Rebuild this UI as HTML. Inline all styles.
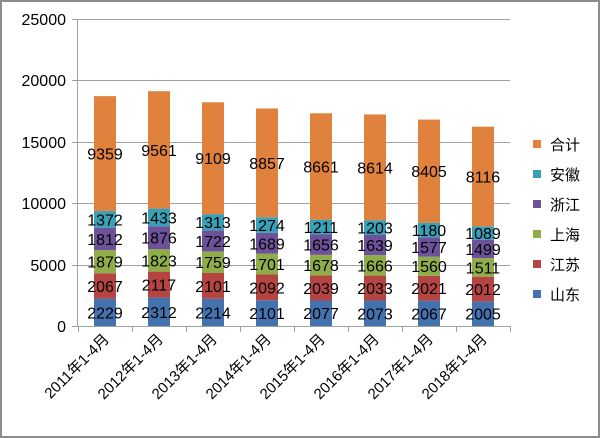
<!DOCTYPE html>
<html><head><meta charset="utf-8"><style>
html,body{margin:0;padding:0;background:#fff}
svg{display:block}
text{font-family:"Liberation Sans","Noto Sans CJK SC",sans-serif}
</style></head><body>
<svg width="600" height="438" viewBox="0 0 600 438" xmlns="http://www.w3.org/2000/svg">
<rect x="1" y="1" width="598" height="436" fill="#fff" stroke="#8c8c8c" stroke-width="2"/>
<g stroke="#a0a0a0" stroke-width="1">
<line x1="72" y1="19.5" x2="510" y2="19.5"/>
<line x1="72" y1="80.5" x2="510" y2="80.5"/>
<line x1="72" y1="142.5" x2="510" y2="142.5"/>
<line x1="72" y1="203.5" x2="510" y2="203.5"/>
<line x1="72" y1="265.5" x2="510" y2="265.5"/>
<line x1="72" y1="326.5" x2="510" y2="326.5"/>
<line x1="77.5" y1="19" x2="77.5" y2="326"/>
</g>
<g stroke="#a0a0a0"><line x1="78.5" y1="326" x2="78.5" y2="332"/><line x1="132.5" y1="326" x2="132.5" y2="332"/><line x1="186.5" y1="326" x2="186.5" y2="332"/><line x1="240.5" y1="326" x2="240.5" y2="332"/><line x1="294.5" y1="326" x2="294.5" y2="332"/><line x1="348.5" y1="326" x2="348.5" y2="332"/><line x1="402.5" y1="326" x2="402.5" y2="332"/><line x1="456.5" y1="326" x2="456.5" y2="332"/><line x1="510.5" y1="326" x2="510.5" y2="332"/></g>
<g font-size="16" fill="#000" text-anchor="end">
<text x="66" y="25">25000</text><text x="66" y="86">20000</text><text x="66" y="148">15000</text><text x="66" y="209">10000</text><text x="66" y="271">5000</text><text x="66" y="332">0</text>
</g>
<g>
<!-- bar 0 -->
<rect x="94" y="298.63" width="22" height="27.37" fill="#4472ae"/>
<rect x="94" y="273.24" width="22" height="25.39" fill="#b54543"/>
<rect x="94" y="250.17" width="22" height="23.07" fill="#8fae4a"/>
<rect x="94" y="227.92" width="22" height="22.25" fill="#6d529a"/>
<rect x="94" y="211.07" width="22" height="16.85" fill="#3aa0b8"/>
<rect x="94" y="96.14" width="22" height="114.93" fill="#e0823d"/>
<!-- bar 1 -->
<rect x="148" y="297.61" width="22" height="28.39" fill="#4472ae"/>
<rect x="148" y="271.61" width="22" height="26.0" fill="#b54543"/>
<rect x="148" y="249.23" width="22" height="22.38" fill="#8fae4a"/>
<rect x="148" y="226.19" width="22" height="23.04" fill="#6d529a"/>
<rect x="148" y="208.59" width="22" height="17.6" fill="#3aa0b8"/>
<rect x="148" y="91.18" width="22" height="117.41" fill="#e0823d"/>
<!-- bar 2 -->
<rect x="202" y="298.81" width="22" height="27.19" fill="#4472ae"/>
<rect x="202" y="273.01" width="22" height="25.8" fill="#b54543"/>
<rect x="202" y="251.41" width="22" height="21.6" fill="#8fae4a"/>
<rect x="202" y="230.27" width="22" height="21.14" fill="#6d529a"/>
<rect x="202" y="214.14" width="22" height="16.13" fill="#3aa0b8"/>
<rect x="202" y="102.28" width="22" height="111.86" fill="#e0823d"/>
<!-- bar 3 -->
<rect x="256" y="300.20" width="22" height="25.8" fill="#4472ae"/>
<rect x="256" y="274.51" width="22" height="25.69" fill="#b54543"/>
<rect x="256" y="253.62" width="22" height="20.89" fill="#8fae4a"/>
<rect x="256" y="232.88" width="22" height="20.74" fill="#6d529a"/>
<rect x="256" y="217.24" width="22" height="15.64" fill="#3aa0b8"/>
<rect x="256" y="108.47" width="22" height="108.77" fill="#e0823d"/>
<!-- bar 4 -->
<rect x="310" y="300.49" width="22" height="25.51" fill="#4472ae"/>
<rect x="310" y="275.46" width="22" height="25.03" fill="#b54543"/>
<rect x="310" y="254.85" width="22" height="20.61" fill="#8fae4a"/>
<rect x="310" y="234.51" width="22" height="20.34" fill="#6d529a"/>
<rect x="310" y="219.64" width="22" height="14.87" fill="#3aa0b8"/>
<rect x="310" y="113.29" width="22" height="106.35" fill="#e0823d"/>
<!-- bar 5 -->
<rect x="364" y="300.54" width="22" height="25.46" fill="#4472ae"/>
<rect x="364" y="275.58" width="22" height="24.96" fill="#b54543"/>
<rect x="364" y="255.12" width="22" height="20.46" fill="#8fae4a"/>
<rect x="364" y="234.99" width="22" height="20.13" fill="#6d529a"/>
<rect x="364" y="220.22" width="22" height="14.77" fill="#3aa0b8"/>
<rect x="364" y="114.44" width="22" height="105.78" fill="#e0823d"/>
<!-- bar 6 -->
<rect x="418" y="300.62" width="22" height="25.38" fill="#4472ae"/>
<rect x="418" y="275.80" width="22" height="24.82" fill="#b54543"/>
<rect x="418" y="256.64" width="22" height="19.16" fill="#8fae4a"/>
<rect x="418" y="237.28" width="22" height="19.36" fill="#6d529a"/>
<rect x="418" y="222.79" width="22" height="14.49" fill="#3aa0b8"/>
<rect x="418" y="119.57" width="22" height="103.22" fill="#e0823d"/>
<!-- bar 7 -->
<rect x="472" y="301.38" width="22" height="24.62" fill="#4472ae"/>
<rect x="472" y="276.67" width="22" height="24.71" fill="#b54543"/>
<rect x="472" y="258.12" width="22" height="18.55" fill="#8fae4a"/>
<rect x="472" y="239.71" width="22" height="18.41" fill="#6d529a"/>
<rect x="472" y="226.34" width="22" height="13.37" fill="#3aa0b8"/>
<rect x="472" y="126.67" width="22" height="99.67" fill="#e0823d"/>
</g>
<g font-size="16" fill="#000" text-anchor="middle">
<text x="105" y="318.3">2229</text><text x="105" y="291.9">2067</text><text x="105" y="267.7">1879</text><text x="105" y="245.0">1812</text><text x="105" y="225.5">1372</text><text x="105" y="159.6">9359</text>
<text x="159" y="317.8">2312</text><text x="159" y="290.6">2117</text><text x="159" y="266.4">1823</text><text x="159" y="243.7">1876</text><text x="159" y="223.4">1433</text><text x="159" y="155.9">9561</text>
<text x="213" y="318.4">2214</text><text x="213" y="291.9">2101</text><text x="213" y="268.2">1759</text><text x="213" y="246.8">1722</text><text x="213" y="228.2">1313</text><text x="213" y="164.2">9109</text>
<text x="267" y="319.1">2101</text><text x="267" y="293.4">2092</text><text x="267" y="270.1">1701</text><text x="267" y="249.3">1689</text><text x="267" y="231.1">1274</text><text x="267" y="168.9">8857</text>
<text x="321" y="319.2">2077</text><text x="321" y="294.0">2039</text><text x="321" y="271.2">1678</text><text x="321" y="250.7">1656</text><text x="321" y="233.1">1211</text><text x="321" y="172.5">8661</text>
<text x="375" y="319.3">2073</text><text x="375" y="294.1">2033</text><text x="375" y="271.4">1666</text><text x="375" y="251.1">1639</text><text x="375" y="233.6">1203</text><text x="375" y="173.3">8614</text>
<text x="429" y="319.3">2067</text><text x="429" y="294.2">2021</text><text x="429" y="272.2">1560</text><text x="429" y="253.0">1577</text><text x="429" y="236.0">1180</text><text x="429" y="177.2">8405</text>
<text x="483" y="319.7">2005</text><text x="483" y="295.0">2012</text><text x="483" y="273.4">1511</text><text x="483" y="254.9">1499</text><text x="483" y="239.0">1089</text><text x="483" y="182.5">8116</text>
</g>
<g font-size="15" fill="#000" text-anchor="end">
<text transform="translate(110,340) rotate(-45)">2011年1-4月</text>
<text transform="translate(164,340) rotate(-45)">2012年1-4月</text>
<text transform="translate(218,340) rotate(-45)">2013年1-4月</text>
<text transform="translate(272,340) rotate(-45)">2014年1-4月</text>
<text transform="translate(326,340) rotate(-45)">2015年1-4月</text>
<text transform="translate(380,340) rotate(-45)">2016年1-4月</text>
<text transform="translate(434,340) rotate(-45)">2017年1-4月</text>
<text transform="translate(488,340) rotate(-45)">2018年1-4月</text>
</g>
<g font-size="15" fill="#000">
<rect x="533" y="140" width="8" height="8" fill="#e0823d"/><text x="550" y="150">合计</text>
<rect x="533" y="170" width="8" height="8" fill="#3aa0b8"/><text x="550" y="180">安徽</text>
<rect x="533" y="200" width="8" height="8" fill="#6d529a"/><text x="550" y="210">浙江</text>
<rect x="533" y="230" width="8" height="8" fill="#8fae4a"/><text x="550" y="240">上海</text>
<rect x="533" y="260" width="8" height="8" fill="#b54543"/><text x="550" y="270">江苏</text>
<rect x="533" y="290" width="8" height="8" fill="#4472ae"/><text x="550" y="300">山东</text>
</g>
</svg>
</body></html>
